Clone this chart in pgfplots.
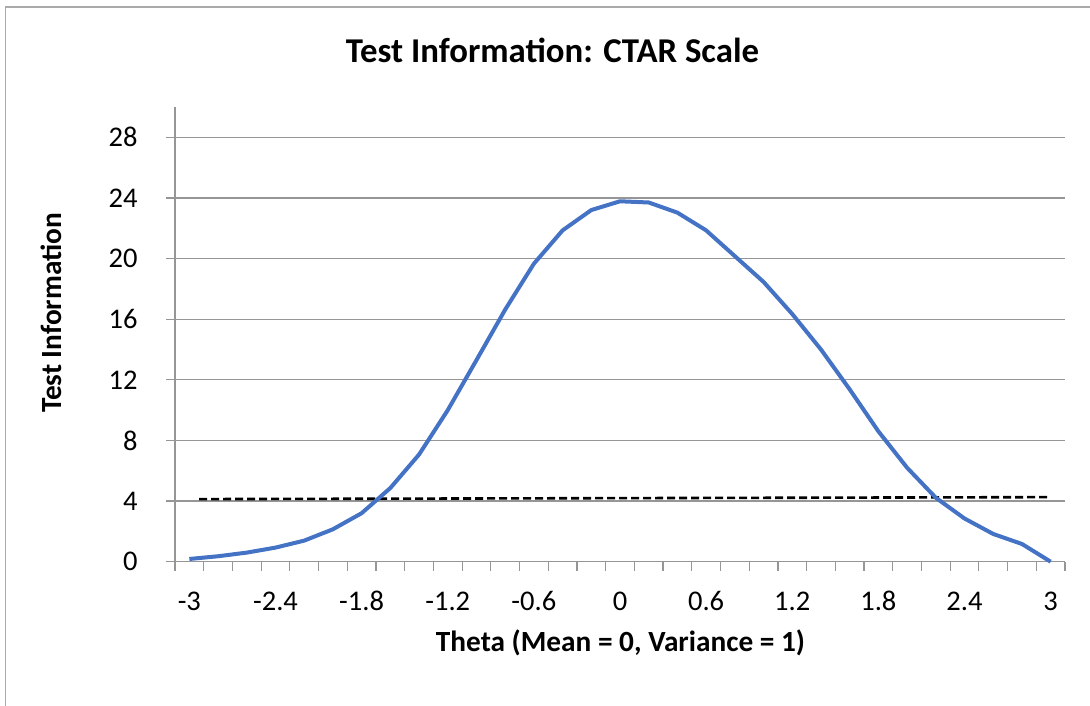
\documentclass[border=0pt]{standalone}
\usepackage{pgfplots}
\pgfplotsset{compat=1.18}
\usepackage{pgfplotstable}
\usepackage{fontspec}
\setmainfont{Carlito}
\definecolor{exblue}{HTML}{4472C4}
\definecolor{gridgray}{RGB}{150,150,150}
\definecolor{framegray}{RGB}{170,170,170}

\pgfplotstableread{
idx theta info
0  -3.0 0.18
1  -2.8 0.36
2  -2.6 0.60
3  -2.4 0.93
4  -2.2 1.39
5  -2.0 2.14
6  -1.8 3.20
7  -1.6 4.86
8  -1.4 7.07
9  -1.2 10.00
10 -1.0 13.30
11 -0.8 16.63
12 -0.6 19.66
13 -0.4 21.86
14 -0.2 23.20
15  0.0 23.78
16  0.2 23.70
17  0.4 23.03
18  0.6 21.86
19  0.8 20.16
20  1.0 18.46
21  1.2 16.34
22  1.4 14.00
23  1.6 11.37
24  1.8 8.60
25  2.0 6.20
26  2.2 4.22
27  2.4 2.85
28  2.6 1.83
29  2.8 1.17
30  3.0 0.00
}\curve

\pgfplotstableread{
idx cut
0.34 4.13
30 4.26
}\cutoff

\begin{document}
\begin{tikzpicture}
\useasboundingbox (0,0) rectangle (1090bp,-706bp);
\draw[framegray, line width=1.2bp] (5.5bp,-706bp) -- (5.5bp,-7bp) -- (1090bp,-7bp);
\begin{axis}[
  at={(175bp,-561.7bp)}, anchor=south west,
  width=890bp, height=454.7bp, scale only axis,
  xmin=-0.5, xmax=30.5, ymin=0, ymax=30,
  axis x line*=bottom, axis y line*=left,
  axis line style={gridgray, line width=1.2bp, -},
  xtick={-0.5,0.5,...,30.5}, xticklabels={},
  extra x ticks={0,3,...,30},
  extra x tick labels={-3,-2.4,-1.8,-1.2,-0.6,0,0.6,1.2,1.8,2.4,3},
  extra x tick style={major tick length=0pt, xmajorgrids=false},
  ytick={0,4,...,28},
  yticklabels={0,4,8,12,16,20,24,28},
  ymajorgrids, xmajorgrids=false,
  grid style={gridgray, line width=1.2bp},
  tick align=outside, major tick length=9bp,
  tick style={gridgray, line width=1.2bp},
  ticklabel style={font=\fontsize{28.5bp}{30bp}\selectfont, inner sep=0pt},
  xticklabel style={anchor=base, yshift=-48.3bp},
  yticklabel style={anchor=east, xshift=-28.3bp},
  clip=false,
]
\addplot[black, line width=2.6bp, dash pattern=on 8bp off 4bp] table[x=idx,y=cut]{\cutoff};
\addplot[exblue, line width=4bp, line join=round] table[x=idx,y=info]{\curve};
\end{axis}
\node[font=\bfseries\fontsize{34.8bp}{36bp}\selectfont, anchor=base] at (552.5bp,-62bp) {Test Information: CTAR Scale};
\node[font=\bfseries\fontsize{29.3bp}{30bp}\selectfont, anchor=base] at (620.5bp,-651.7bp) {Theta (Mean = 0, Variance = 1)};
\node[font=\bfseries\fontsize{29.3bp}{30bp}\selectfont, anchor=base, rotate=90] at (61bp,-313bp) {Test Information};
\end{tikzpicture}
\end{document}
